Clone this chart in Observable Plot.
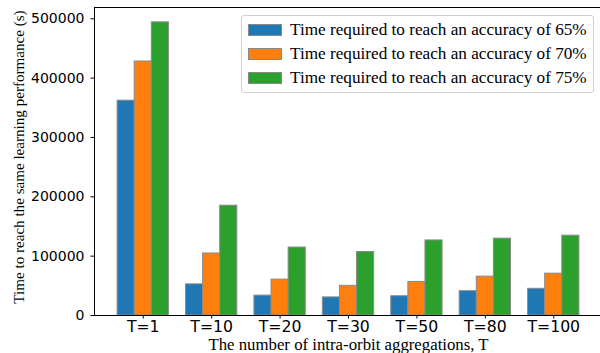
<!DOCTYPE html>
<html>
<head>
<meta charset="utf-8">
<script src="https://cdn.jsdelivr.net/npm/d3@7"></script>
<script src="https://cdn.jsdelivr.net/npm/@observablehq/plot@0.6"></script>
<style>
  html, body { margin: 0; padding: 0; background: #fff; }
  #wrap { position: relative; width: 600px; height: 353px; overflow: hidden; }
  #legend {
    position: absolute; left: 241px; top: 15px; width: 353px; height: 78px;
    border: 1px solid #d0d0d0; border-radius: 3px; background: rgba(255,255,255,0.85);
    box-sizing: border-box; padding-top: 2px;
    font-family: "Liberation Serif", "Times New Roman", serif; font-size: 17.2px; color: #000;
  }
  .row { display: flex; align-items: center; height: 24px; }
  .patch { width: 34px; height: 12px; margin-left: 6px; margin-right: 8px; box-sizing: border-box; border: 1px solid #888; flex: none; }
</style>
</head>
<body>
<div id="wrap"></div>
<script>
const categories = ["T=1", "T=10", "T=20", "T=30", "T=50", "T=80", "T=100"];
const seriesNames = [
  "Time required to reach an accuracy of 65%",
  "Time required to reach an accuracy of 70%",
  "Time required to reach an accuracy of 75%"
];
const acc65 = [362000, 52500, 33500, 30500, 32500, 41000, 45000];
const acc70 = [428000, 104500, 60500, 50000, 56500, 65500, 70500];
const acc75 = [494000, 185000, 114500, 107000, 126500, 129500, 134500];
const colors = ["#1f77b4", "#ff7f0e", "#2ca02c"];
const yTicks = [0, 100000, 200000, 300000, 400000, 500000];
const xLabel = "The number of intra-orbit aggregations, T";
const yLabel = "Time to reach the same learning performance (s)";

const seriesValues = [acc65, acc70, acc75];
const barWidth = 0.25;
const rows = [];
seriesValues.forEach((vals, j) => {
  vals.forEach((v, i) => {
    const x1 = i - 1.5 * barWidth + j * barWidth;
    rows.push({cat: categories[i], series: seriesNames[j], x1, x2: x1 + barWidth, value: v});
  });
});

const chart = Plot.plot({
  width: 600,
  height: 353,
  marginLeft: 94,
  marginRight: -2,
  marginTop: 7,
  marginBottom: 38,
  style: {fontFamily: "DejaVu Sans", fontSize: "14px", color: "black", background: "white"},
  x: {domain: [-0.7125, categories.length - 1 + 0.7125]},
  y: {domain: [0, 519000]},
  color: {domain: seriesNames, range: colors},
  marks: [
    Plot.rect(rows, {x1: "x1", x2: "x2", y1: 0, y2: "value", fill: "series", stroke: "#8a8a8a", strokeWidth: 1}),
    Plot.frame({stroke: "black", strokeWidth: 1}),
    Plot.axisX({ticks: categories.map((c, i) => i), tickFormat: i => categories[i], tickSize: 3.5, tickPadding: 1.5, label: null, fontSize: 15.7}),
    Plot.axisY({ticks: yTicks, tickFormat: d => String(d), tickSize: 3.5, tickPadding: 6.5, label: null, fontSize: 14}),
    Plot.text([xLabel], {frameAnchor: "bottom", textAnchor: "middle", dy: 34, text: d => d, fontFamily: "Liberation Serif", fontSize: 16.8}),
    Plot.text([yLabel], {frameAnchor: "left", textAnchor: "middle", dx: -75, dy: -4.5, rotate: -90, text: d => d, fontFamily: "Liberation Serif", fontSize: 15.1})
  ]
});

const wrap = document.getElementById("wrap");
wrap.appendChild(chart);

const legend = document.createElement("div");
legend.id = "legend";
seriesNames.forEach((name, j) => {
  const row = document.createElement("div");
  row.className = "row";
  const patch = document.createElement("span");
  patch.className = "patch";
  patch.style.background = colors[j];
  const label = document.createElement("span");
  label.textContent = name;
  row.appendChild(patch);
  row.appendChild(label);
  legend.appendChild(row);
});
wrap.appendChild(legend);
</script>
</body>
</html>
